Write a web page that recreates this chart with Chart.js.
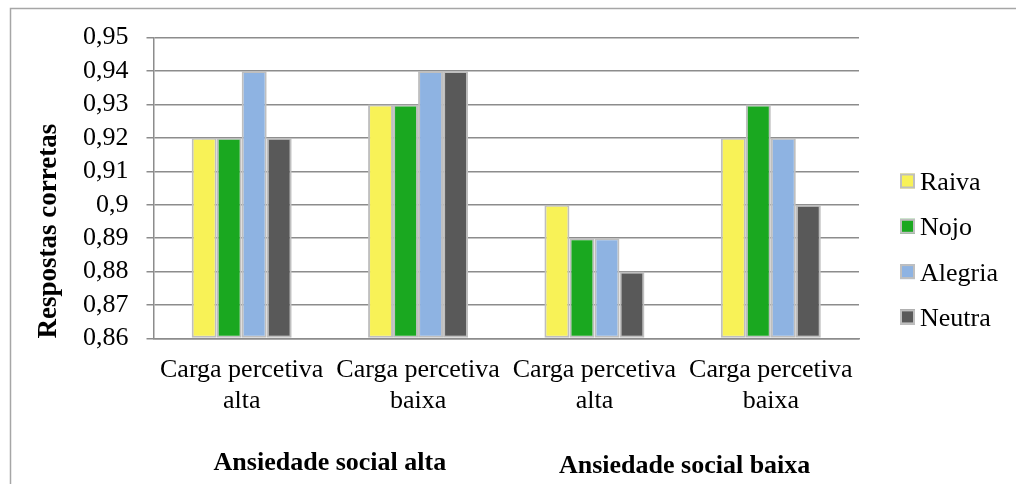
<!DOCTYPE html>
<html>
<head>
<meta charset="utf-8">
<script src="https://cdn.jsdelivr.net/npm/chart.js@4/dist/chart.umd.min.js"></script>
<style>
  html, body { margin: 0; padding: 0; background: #fff; }
  #wrap { position: relative; width: 1016px; height: 484px; }
</style>
</head>
<body>
<div id="wrap"><canvas id="chart" width="1016" height="484"></canvas></div>
<script>
// Dados
const categories = [
  ['Carga percetiva', 'alta'],
  ['Carga percetiva', 'baixa'],
  ['Carga percetiva', 'alta'],
  ['Carga percetiva', 'baixa']
];
const groupLabels = ['Ansiedade social alta', 'Ansiedade social baixa'];
const seriesNames = ['Raiva', 'Nojo', 'Alegria', 'Neutra'];
const raiva   = [0.92, 0.93, 0.90, 0.92];
const nojo    = [0.92, 0.93, 0.89, 0.93];
const alegria = [0.94, 0.94, 0.89, 0.92];
const neutra  = [0.92, 0.94, 0.88, 0.90];
const yTicks = [0.86, 0.87, 0.88, 0.89, 0.90, 0.91, 0.92, 0.93, 0.94, 0.95];
const yTickLabels = ['0,86', '0,87', '0,88', '0,89', '0,9', '0,91', '0,92', '0,93', '0,94', '0,95'];
const yTitle = 'Respostas corretas';

const colors = ['#f8f257', '#1aa820', '#8eb3e2', '#595959'];
const FONT = "'Liberation Serif', 'Times New Roman', serif";
const gridColor = '#8c8c8c';
const yMin = yTicks[0], yMax = yTicks[yTicks.length - 1];

const datasets = [raiva, nojo, alegria, neutra].map((vals, i) => ({
  label: seriesNames[i],
  data: vals,
  base: yMin,
  backgroundColor: colors[i],
  borderColor: '#bfbfbf',
  borderWidth: 2,
  borderSkipped: false,
  categoryPercentage: 0.567,
  barPercentage: 1
}));

// Moldura, legenda e rótulos de grupo
const extras = {
  id: 'extras',
  beforeDraw(chart) {
    const c = chart.ctx;
    c.save();
    c.strokeStyle = '#a6a6a6';
    c.lineWidth = 1.5;
    c.strokeRect(10.5, 8.5, 1100, 1000);
    c.restore();
  },
  afterDraw(chart) {
    const c = chart.ctx;
    const x = chart.scales.x;
    c.save();
    // rótulos de grupo (2 categorias cada)
    c.font = 'bold 26px ' + FONT;
    c.fillStyle = '#000';
    c.textAlign = 'center';
    c.textBaseline = 'alphabetic';
    groupLabels.forEach((g, i) => {
      const cx = (x.getPixelForValue(i * 2) + x.getPixelForValue(i * 2 + 1)) / 2;
      c.fillText(g, cx + (i ? 2 : 0), i ? 472.5 : 469.5);
    });
    // legenda
    c.font = '26px ' + FONT;
    c.textAlign = 'left';
    chart.data.datasets.forEach((ds, i) => {
      const cy = 181 + i * 45.3;
      c.fillStyle = ds.backgroundColor;
      c.fillRect(900, cy - 7.5, 15, 15);
      c.strokeStyle = '#bfbfbf';
      c.lineWidth = 2;
      c.strokeRect(901, cy - 6.5, 13, 13);
      c.fillStyle = '#000';
      c.fillText(ds.label, 920, cy + 9);
    });
    c.restore();
  }
};

new Chart(document.getElementById('chart'), {
  type: 'bar',
  data: { labels: categories, datasets },
  plugins: [extras],
  options: {
    responsive: false,
    animation: false,
    layout: { padding: { top: 37.5, right: 157, bottom: 0, left: 0 } },
    plugins: { legend: { display: false }, tooltip: { enabled: false } },
    scales: {
      x: {
        grid: { display: false, drawTicks: false },
        border: { display: true, color: gridColor, width: 1.5 },
        ticks: {
          color: '#000', font: { family: FONT, size: 26, lineHeight: 1.165 },
          padding: 17, maxRotation: 0, minRotation: 0, autoSkip: false
        },
        afterFit(s) { s.height = 145.5; }
      },
      y: {
        min: yMin, max: yMax,
        grid: { color: gridColor, lineWidth: 1.5, tickLength: 7, tickColor: gridColor },
        border: { display: true, color: gridColor, width: 1.5 },
        afterBuildTicks(s) { s.ticks = yTicks.map(v => ({ value: v })); },
        ticks: {
          autoSkip: false, color: '#000', padding: 18,
          font: { family: FONT, size: 26 },
          callback: (v, i) => yTickLabels[i]
        },
        title: {
          display: true, text: yTitle, align: 'start', color: '#000',
          font: { family: FONT, size: 27, weight: 'bold', lineHeight: 1.2 },
          padding: { top: 33, bottom: 0 }
        },
        afterFit(s) { s.width = 153.5; }
      }
    }
  }
});
</script>
</body>
</html>
